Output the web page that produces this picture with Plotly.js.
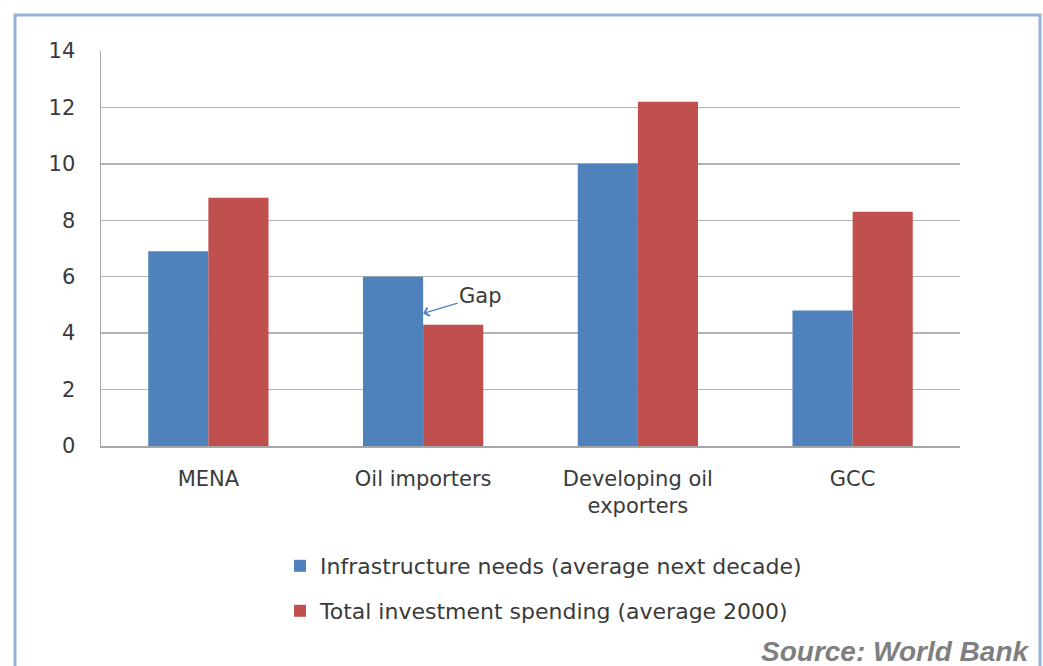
<!DOCTYPE html>
<html>
<head>
<meta charset="utf-8">
<script src="https://cdn.plot.ly/plotly-3.0.1.min.js"></script>
<style>html,body{margin:0;padding:0;background:#fff;}#chart{width:1043px;height:666px;}</style>
</head>
<body>
<div id="chart"></div>
<script>
// Data
const categories = ["MENA", "Oil importers", "Developing oil<br>exporters", "GCC"];
const infrastructureNeeds = [6.9, 6.0, 10.0, 4.8];
const totalInvestment = [8.8, 4.3, 12.2, 8.3];
const seriesNames = ["Infrastructure needs (average next decade)", "Total investment spending (average 2000)"];
const yTicks = [0, 2, 4, 6, 8, 10, 12, 14];
const gapLabel = "Gap";
const gapPointY = 4.7;
const sourceText = "Source: World Bank";

const FONT = "DejaVu Sans, Open Sans, sans-serif";
const FS = 21;
const TXT = "#3a3a3a";

// pixel helpers for paper coords (plot area 101..960 x, 51..446 y)
const L = 101, R = 960, T = 51, B = 446;
const px = v => (v - L) / (R - L);
const py = v => (B - v) / (B - T);

const traces = [
  {type: "bar", x: categories, y: infrastructureNeeds, name: seriesNames[0],
   marker: {color: "#4f81bd"}, legend: "legend", hoverinfo: "y"},
  {type: "bar", x: categories, y: totalInvestment, name: seriesNames[1],
   marker: {color: "#c0504d"}, legend: "legend2", hoverinfo: "y"}
];

const layout = {
  width: 1043, height: 666,
  margin: {l: L, r: 1043 - R, t: T, b: 666 - B, pad: 0},
  paper_bgcolor: "#ffffff", plot_bgcolor: "#ffffff",
  font: {family: FONT, size: FS, color: TXT},
  barmode: "group", bargap: 0.44, bargroupgap: 0,
  xaxis: {
    type: "category", showgrid: false, zeroline: false,
    showline: true, linecolor: "#a6a6a6", linewidth: 1.5,
    ticks: "", ticklabelstandoff: 13,
    tickfont: {family: FONT, size: FS, color: TXT}, fixedrange: true
  },
  yaxis: {
    range: [0, 14], tickvals: yTicks, ticktext: yTicks.map(String),
    showgrid: true, gridcolor: "#b3b3b3", gridwidth: 1.5,
    zeroline: false, showline: true, linecolor: "#a6a6a6", linewidth: 1.5,
    ticks: "", ticklabelstandoff: 20,
    tickfont: {family: FONT, size: FS, color: TXT}, fixedrange: true
  },
  showlegend: true,
  legend: {x: px(280), xanchor: "left", y: py(566), yanchor: "middle",
           bgcolor: "rgba(0,0,0,0)", font: {family: FONT, size: 22, color: TXT}},
  legend2: {x: px(280), xanchor: "left", y: py(611), yanchor: "middle",
            bgcolor: "rgba(0,0,0,0)", font: {family: FONT, size: 22, color: TXT}},
  shapes: [
    {type: "rect", xref: "paper", yref: "paper",
     x0: px(15), x1: px(1040), y0: py(700), y1: py(15),
     line: {color: "#95b3d7", width: 3}, fillcolor: "rgba(0,0,0,0)", layer: "below"}
  ],
  annotations: [
    {xref: "x", yref: "y", x: categories[1], y: gapPointY, text: gapLabel,
     showarrow: true, ax: 57, ay: -17, arrowhead: 4, arrowsize: 1.4, arrowwidth: 1.2,
     arrowcolor: "#4f81bd", standoff: 0, startstandoff: 0,
     font: {family: FONT, size: FS, color: TXT}},
    {xref: "paper", yref: "paper", x: px(1032), xanchor: "right", y: py(651), yanchor: "middle",
     text: "<b><i>" + sourceText + "</i></b>", showarrow: false,
     font: {family: "Liberation Sans, Arial, sans-serif", size: 28, color: "#7f7f7f"}}
  ]
};

Plotly.newPlot("chart", traces, layout, {displayModeBar: false, staticPlot: true});
</script>
</body>
</html>
